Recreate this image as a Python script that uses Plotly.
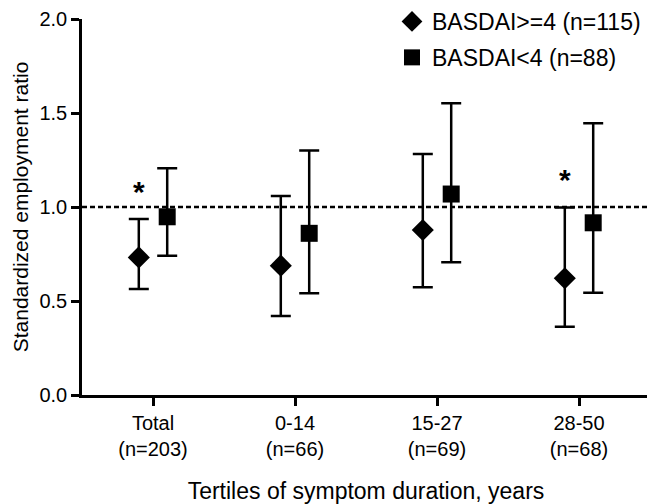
import plotly.graph_objects as go

categories = ["Total<br>(n=203)", "0-14<br>(n=66)", "15-27<br>(n=69)", "28-50<br>(n=68)"]

high_name = "BASDAI>=4 (n=115)"
high_val = [0.732, 0.688, 0.878, 0.621]
high_upper = [0.936, 1.059, 1.282, 0.998]
high_lower = [0.564, 0.420, 0.573, 0.363]

low_name = "BASDAI<4 (n=88)"
low_val = [0.948, 0.860, 1.069, 0.916]
low_upper = [1.206, 1.300, 1.552, 1.445]
low_lower = [0.741, 0.541, 0.706, 0.544]

star_cat = [0, 3]
star_y = [1.10, 1.16]

ref_line = 1.0
y_ticks = [0.0, 0.5, 1.0, 1.5, 2.0]

FONT = "Arial, Liberation Sans, Helvetica, sans-serif"
OFF = 0.1

idx = list(range(len(categories)))

fig = go.Figure()

def add_series(vals, up, lo, name, symbol, shift, grp):
    fig.add_trace(go.Scatter(
        x=[i + shift for i in idx], y=vals, mode="markers", name=name, legendgroup=grp,
        marker=dict(symbol=symbol, size=17, color="black"),
        error_y=dict(type="data", symmetric=False,
                     array=[u - v for u, v in zip(up, vals)],
                     arrayminus=[v - l for v, l in zip(vals, lo)],
                     color="black", thickness=2.5, width=10),
    ))

add_series(high_val, high_upper, high_lower, high_name, "diamond", -OFF, "g1")
add_series(low_val, low_upper, low_lower, low_name, "square", OFF, "g2")

fig.add_shape(type="line", xref="paper", x0=0, x1=1, yref="y", y0=ref_line, y1=ref_line,
              line=dict(color="black", width=2.5, dash="5px,3px"), layer="below")

for c, yv in zip(star_cat, star_y):
    fig.add_annotation(x=c - OFF, y=yv, xref="x", yref="y", text="<b>*</b>", showarrow=False,
                       font=dict(family=FONT, size=30, color="black"), yshift=-3)

fig.update_layout(
    width=647, height=496,
    margin=dict(l=74, r=5, t=11, b=109, autoexpand=False),
    paper_bgcolor="white", plot_bgcolor="white",
    font=dict(family=FONT, color="black", size=20),
    showlegend=True,
    legend=dict(x=0.5935 * 647 / 568 - 74 / 568, y=1.0505, xanchor="left", yanchor="top",
                font=dict(family=FONT, size=23, color="black"),
                bgcolor="rgba(0,0,0,0)", tracegroupgap=3, itemwidth=30),
    xaxis=dict(range=[-0.5, 3.5], tickvals=idx, ticktext=categories,
               showline=True, linecolor="black", linewidth=2.5,
               ticks="outside", ticklen=8, tickwidth=2.5, tickcolor="black",
               showgrid=False, zeroline=False, automargin=False,
               tickfont=dict(family=FONT, size=20),
               title=dict(text="Tertiles of symptom duration, years",
                          font=dict(family=FONT, size=23), standoff=25)),
    yaxis=dict(range=[0, 2.0], tickvals=y_ticks, ticktext=[f"{v:.1f}" for v in y_ticks],
               showline=True, linecolor="black", linewidth=2.5,
               ticks="outside", ticklen=8, tickwidth=2.5, tickcolor="black",
               showgrid=False, zeroline=False, automargin=False,
               tickfont=dict(family=FONT, size=20),
               title=dict(text="Standardized employment ratio",
                          font=dict(family=FONT, size=21), standoff=6)),
)

fig.write_html("out.html")
